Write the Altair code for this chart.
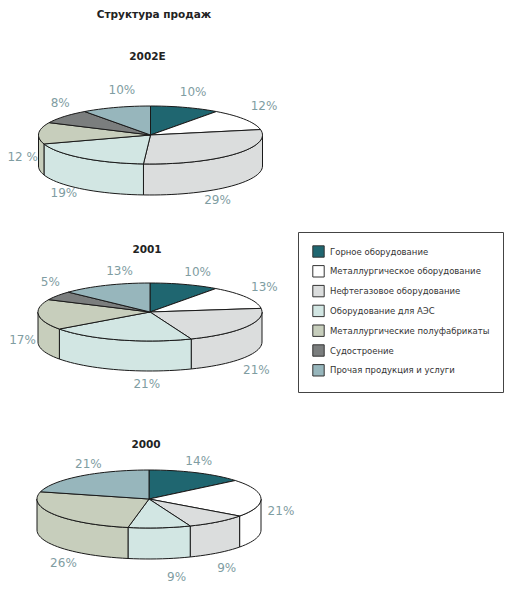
import math
import altair as alt
import pandas as pd

CATEGORIES = [
    "Горное оборудование",
    "Металлургическое оборудование",
    "Нефтегазовое оборудование",
    "Оборудование для АЭС",
    "Металлургические полуфабрикаты",
    "Судостроение",
    "Прочая продукция и услуги",
]
COLORS = ["#1F6670", "#FFFFFF", "#DBDDDD", "#D2E6E3", "#C7CEBC", "#7B7E7E", "#97B6BC"]

YEARS = ["2002E", "2001", "2000"]
SHARES = {
    "2002E": [10, 12, 29, 19, 12, 8, 10],
    "2001": [10, 13, 21, 21, 17, 5, 13],
    "2000": [14, 21, 9, 9, 26, 0, 21],
}
LABEL_SUFFIX = {"2002E": ["%", "%", "%", "%", " %", "%", "%"]}

# Layout, kept apart from the values
WIDTH, HEIGHT = 498, 576
ORIGIN = 8
PIE_CENTER = {"2002E": (150.5, 135), "2001": (150, 312), "2000": (149, 499)}
RX, RY = 112, 29
DEPTH = {"2002E": 31, "2001": 30, "2000": 31}
TITLE_Y = {"2002E": 57, "2001": 250, "2000": 445}
TITLE_DX = -3
LABEL_OFFSETS = {
    "2002E": [(8, -15), (19, -13), (-17, 15), (-18, 4), (-16, 24), (-4, -14), (6, -17)],
    "2001": [(13, -12), (18, -10), (10, 13), (28, 14), (-16, -5), (-7, -14), (14, -14)],
    "2000": [(2, -12), (20, 13), (9, 15), (17, 18), (9, 17), (0, 0), (8, -12)],
}


def rim(center, deg):
    t = math.radians(deg)
    return center[0] + RX * math.sin(t), center[1] - RY * math.cos(t)


def arc_angles(a, b):
    n = max(2, int(abs(b - a) / 3) + 1)
    return [a + (b - a) * i / n for i in range(n + 1)]


top_rows, side_rows, label_rows, title_rows = [], [], [], []
for year in YEARS:
    c = PIE_CENTER[year]
    d = DEPTH[year]
    cum = 0
    title_rows.append({"x": c[0] + TITLE_DX, "y": TITLE_Y[year], "t": year})
    for k, (cat, v) in enumerate(zip(CATEGORIES, SHARES[year])):
        if v == 0:
            continue
        a, b = cum * 3.6, (cum + v) * 3.6
        cum += v
        key = f"{year}-{k}"
        pts = [c] + [rim(c, g) for g in arc_angles(a, b)] + [c]
        for i, (x, y) in enumerate(pts):
            top_rows.append({"x": x, "y": y, "i": i, "key": key, "cat": cat})
        lo, hi = max(a, 90), min(b, 270)
        if hi > lo:
            ang = arc_angles(lo, hi)
            upper = [rim(c, g) for g in ang]
            lower = [(x, y + d) for x, y in reversed(upper)]
            pts = upper + lower + [upper[0]]
            for i, (x, y) in enumerate(pts):
                side_rows.append({"x": x, "y": y, "i": i, "key": key, "cat": cat})
        mid = (a + b) / 2
        rx_, ry_ = rim(c, mid)
        if math.cos(math.radians(mid)) < 0:
            ry_ += d
        ox, oy = LABEL_OFFSETS[year][k]
        suffix = LABEL_SUFFIX.get(year, ["%"] * 7)[k]
        label_rows.append({"x": rx_ + ox, "y": ry_ + oy, "t": f"{v}{suffix}"})

x_scale = alt.Scale(domain=[ORIGIN, ORIGIN + WIDTH], range=[0, WIDTH], nice=False, zero=False)
y_scale = alt.Scale(domain=[ORIGIN, ORIGIN + HEIGHT], range=[0, HEIGHT], nice=False, zero=False)
X = alt.X("x:Q", scale=x_scale, axis=None)
Y = alt.Y("y:Q", scale=y_scale, axis=None)
FILL = alt.Fill(
    "cat:N",
    scale=alt.Scale(domain=CATEGORIES, range=COLORS),
    legend=alt.Legend(
        title=None,
        orient="none",
        legendX=290,
        legendY=224,
        padding=13,
        symbolType="square",
        symbolSize=130,
        symbolStrokeColor="#333333",
        symbolStrokeWidth=1,
        symbolOpacity=1,
        symbolOffset=1,
        rowPadding=2.8,
        labelOffset=5,
        labelFont="DejaVu Sans",
        labelFontSize=8.5,
        labelColor="#333333",
        labelLimit=300,
        strokeColor="#444444",
        fillColor="#FFFFFF",
        columnPadding=0,
    ),
)


def wedge_layer(rows):
    return (
        alt.Chart(pd.DataFrame(rows))
        .mark_line(filled=True, stroke="#1A1A1A", strokeWidth=1, interpolate="linear")
        .encode(x=X, y=Y, order="i:Q", detail="key:N", fill=FILL)
    )


labels = (
    alt.Chart(pd.DataFrame(label_rows))
    .mark_text(font="DejaVu Sans", fontSize=12, color="#7F9DA2", fontWeight=500)
    .encode(x=X, y=Y, text="t:N")
)
titles = (
    alt.Chart(pd.DataFrame(title_rows))
    .mark_text(font="DejaVu Sans", fontSize=10.5, fontWeight="bold", color="#222222")
    .encode(x=X, y=Y, text="t:N")
)
main_title = (
    alt.Chart(pd.DataFrame({"x": [154], "y": [15], "t": ["Структура продаж"]}))
    .mark_text(font="DejaVu Sans", fontSize=10.5, fontWeight="bold", color="#222222")
    .encode(x=X, y=Y, text="t:N")
)

chart = (
    alt.layer(wedge_layer(side_rows), wedge_layer(top_rows), labels, titles, main_title)
    .properties(width=WIDTH, height=HEIGHT, padding=0, autosize=alt.AutoSizeParams(type="none"), background="#FFFFFF")
    .configure_view(stroke=None)
)
chart.save("out.html", embed_options={"renderer": "svg", "actions": False})
